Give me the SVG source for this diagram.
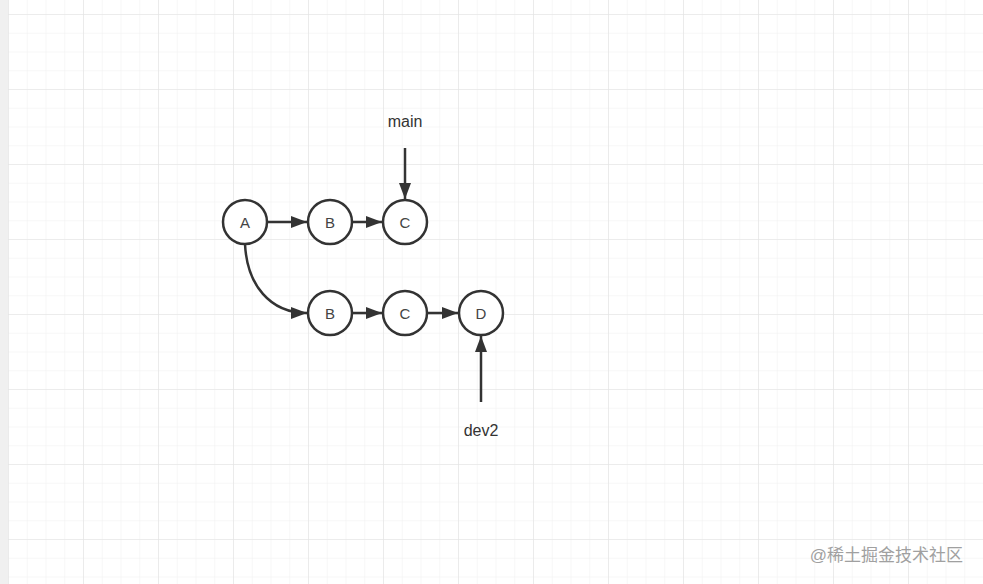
<svg xmlns="http://www.w3.org/2000/svg" width="983" height="584" viewBox="0 0 983 584">
<defs>
<pattern id="minor" x="8" y="14" width="18.75" height="18.75" patternUnits="userSpaceOnUse">
<path d="M0 0H18.75M0 0V18.75" fill="none" stroke="#efefef" stroke-width="1"/>
</pattern>
<pattern id="major" x="8" y="14" width="75" height="75" patternUnits="userSpaceOnUse">
<path d="M0 0H75M0 0V75" fill="none" stroke="#e2e2e2" stroke-width="1.2"/>
</pattern>
<marker id="arr" viewBox="0 0 16 12" refX="16" refY="6" markerWidth="16" markerHeight="12" markerUnits="userSpaceOnUse" orient="auto">
<path d="M0 0L16 6L0 12Z" fill="#333"/>
</marker>
<style>
.n circle{fill:#fff;stroke:#333;stroke-width:2.5}
.n text{font-family:"Liberation Sans",Arial,sans-serif;font-size:15px;fill:#444;text-anchor:middle;dominant-baseline:central}
.e{fill:none;stroke:#333;stroke-width:2.5;marker-end:url(#arr)}
.lbl{font-family:"Liberation Sans",Arial,sans-serif;font-size:16px;fill:#333;text-anchor:middle}
</style>
</defs>
<rect width="983" height="584" fill="#fff"/>
<rect x="8" width="975" height="584" fill="url(#minor)"/>
<rect x="8" width="975" height="584" fill="url(#major)"/>
<rect x="0" y="0" width="8" height="584" fill="#f0f0f0"/>
<g id="connectors">
<path class="e" d="M268 222H307"/>
<path class="e" d="M353 222H382"/>
<path class="e" d="M245 244C247 285 270 313 307 313"/>
<path class="e" d="M353 313H382"/>
<path class="e" d="M428 313H458"/>
<path class="e" d="M405 148V199"/>
<path class="e" d="M481 402V336"/>
</g>
<g id="nA" class="n"><circle cx="245" cy="222" r="22"/><text x="245" y="222">A</text></g>
<g id="nB1" class="n"><circle cx="330" cy="222" r="22"/><text x="330" y="222">B</text></g>
<g id="nC1" class="n"><circle cx="405" cy="222" r="22"/><text x="405" y="222">C</text></g>
<g id="nB2" class="n"><circle cx="330" cy="313" r="22"/><text x="330" y="313">B</text></g>
<g id="nC2" class="n"><circle cx="405" cy="313" r="22"/><text x="405" y="313">C</text></g>
<g id="nD" class="n"><circle cx="481" cy="313" r="22"/><text x="481" y="313">D</text></g>
<g id="main"><text class="lbl" x="405" y="127">main</text></g>
<g id="dev2"><text class="lbl" x="481" y="436">dev2</text></g>
<text x="963" y="561" text-anchor="end" font-family="'Liberation Sans','Noto Sans CJK SC',sans-serif" font-size="17" fill="#a0a0a0">@稀土掘金技术社区</text>
</svg>
